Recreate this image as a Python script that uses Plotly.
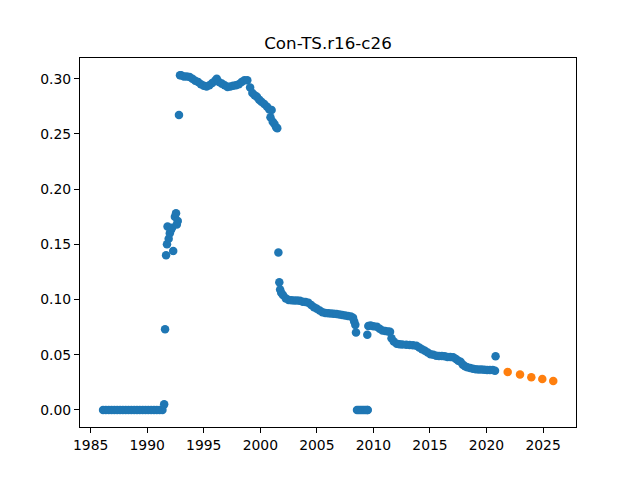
import plotly.graph_objects as go

# observed series (decimal years)
hist_years = [
    1986.1, 1986.35, 1986.6, 1986.85, 1987.1, 1987.35, 1987.6, 1987.85,
    1988.1, 1988.35, 1988.6, 1988.85, 1989.1, 1989.35, 1989.6, 1989.85,
    1990.1, 1990.35, 1990.6, 1990.85, 1991.1, 1991.35,
    1991.5, 1991.58, 1991.67, 1991.75, 1991.8, 1991.9, 1992.0, 1992.1,
    1992.2, 1992.3, 1992.45, 1992.55, 1992.62, 1992.7, 1992.81, 1992.9,
    1993.0, 1993.25, 1993.5, 1993.75, 1994.0, 1994.25, 1994.5, 1994.75,
    1995.0, 1995.25, 1995.5, 1995.75, 1996.0, 1996.15, 1996.35, 1996.6,
    1996.85, 1997.1, 1997.35, 1997.6, 1997.85, 1998.1, 1998.35, 1998.6,
    1998.85, 1999.1, 1999.3, 1999.5, 1999.7, 1999.9, 2000.1, 2000.35,
    2000.6, 2000.8, 2000.9, 2001.0, 2001.1, 2001.25, 2001.4, 2001.5,
    2001.6, 2001.68, 2001.75, 2001.85, 2002.0, 2002.25, 2002.5, 2002.75,
    2003.0, 2003.25, 2003.5, 2003.75, 2004.0, 2004.25, 2004.5, 2004.75,
    2005.0, 2005.25, 2005.5, 2005.75, 2006.0, 2006.25, 2006.5, 2006.75,
    2007.0, 2007.25, 2007.5, 2007.75, 2008.0, 2008.2, 2008.3, 2008.4,
    2008.46, 2008.55, 2008.7, 2008.85, 2009.0, 2009.15, 2009.3, 2009.45,
    2009.5, 2009.46, 2009.55, 2009.75, 2010.0, 2010.3, 2010.55, 2010.8,
    2011.05, 2011.3, 2011.47, 2011.6, 2011.8, 2012.06, 2012.3, 2012.55,
    2012.9, 2013.2, 2013.5, 2013.8, 2014.05, 2014.3, 2014.55, 2014.8,
    2015.05, 2015.3, 2015.55, 2015.8, 2016.05, 2016.3, 2016.55, 2016.8,
    2017.05, 2017.3, 2017.5, 2017.7, 2017.9, 2018.1, 2018.3, 2018.55,
    2018.8, 2019.05, 2019.3, 2019.55, 2019.8, 2020.05, 2020.3, 2020.55,
    2020.75, 2020.8,
]
hist_vals = [
    0.0, 0.0, 0.0, 0.0, 0.0, 0.0, 0.0, 0.0,
    0.0, 0.0, 0.0, 0.0, 0.0, 0.0, 0.0, 0.0,
    0.0, 0.0, 0.0, 0.0, 0.0, 0.0,
    0.005, 0.073, 0.140, 0.150, 0.166, 0.155, 0.160, 0.163,
    0.165, 0.144, 0.175, 0.178, 0.168, 0.171, 0.267, 0.303,
    0.303, 0.302, 0.302, 0.3015, 0.300, 0.298, 0.297, 0.295,
    0.2935, 0.293, 0.294, 0.296, 0.298, 0.300, 0.297, 0.2955,
    0.294, 0.2925, 0.293, 0.2935, 0.294, 0.295, 0.297, 0.2985,
    0.2985, 0.292, 0.287, 0.285, 0.2835, 0.281, 0.279, 0.277,
    0.2745, 0.272, 0.265, 0.2715, 0.261, 0.259, 0.256, 0.255,
    0.1426, 0.1155, 0.109, 0.106, 0.104, 0.101, 0.0995, 0.0993,
    0.099, 0.099, 0.0988, 0.098, 0.0978, 0.097, 0.095, 0.093,
    0.0915, 0.090, 0.0885, 0.0878, 0.0875, 0.0872, 0.087, 0.0868,
    0.0865, 0.086, 0.0855, 0.085, 0.0845, 0.0835, 0.080, 0.077,
    0.070, 0.0, 0.0, 0.0, 0.0, 0.0, 0.0, 0.0,
    0.0, 0.068, 0.076, 0.0765, 0.0758, 0.0754, 0.0735, 0.072,
    0.0715, 0.071, 0.0708, 0.0648, 0.062, 0.060, 0.0595, 0.0592,
    0.059, 0.0588, 0.0585, 0.058, 0.0565, 0.055, 0.0535, 0.052,
    0.0505, 0.050, 0.049, 0.0488, 0.0487, 0.0485, 0.048, 0.0478,
    0.0477, 0.046, 0.0445, 0.0437, 0.041, 0.0395, 0.0386, 0.038,
    0.0372, 0.0368, 0.0366, 0.0365, 0.0363, 0.0362, 0.0362, 0.0361,
    0.0355, 0.0485,
]

# forecast
fc_years = [2021.87, 2022.96, 2023.96, 2024.93, 2025.9]
fc_vals = [0.0344, 0.0320, 0.0296, 0.0280, 0.0262]

x_ticks = [1985, 1990, 1995, 2000, 2005, 2010, 2015, 2020, 2025]
y_ticks = [0.0, 0.05, 0.10, 0.15, 0.20, 0.25, 0.30]

fig = go.Figure()
fig.add_trace(go.Scatter(x=hist_years, y=hist_vals, mode="markers",
                         marker=dict(color="#1f77b4", size=8.5, line_width=0),
                         showlegend=False))
fig.add_trace(go.Scatter(x=fc_years, y=fc_vals, mode="markers",
                         marker=dict(color="#ff7f0e", size=8.5, line_width=0),
                         showlegend=False))

axis_style = dict(showgrid=False, zeroline=False, showline=True, mirror=True,
                  linecolor="black", linewidth=1, ticks="outside", ticklen=5,
                  tickcolor="black", tickfont=dict(family="DejaVu Sans", size=13.9, color="black"))

fig.update_xaxes(range=[1984.06, 2027.91], tickvals=x_ticks,
                 ticktext=[str(t) for t in x_ticks], **axis_style)
fig.update_yaxes(range=[-0.0155, 0.3187], tickvals=y_ticks,
                 ticktext=[f"{t:.2f}" for t in y_ticks], **axis_style)

# the page body adds 8px, so the margins are shifted up/left by that much
fig.update_layout(
    width=640, height=480,
    margin=dict(l=72, r=72, t=49.6, b=60.8),
    paper_bgcolor="white", plot_bgcolor="white",
    title=dict(text="Con-TS.r16-c26", x=0.5, xref="paper", y=1 - 35 / 480,
               yref="container", yanchor="middle",
               font=dict(family="DejaVu Sans", size=16.7, color="black")),
)

fig.write_html("out.html")
